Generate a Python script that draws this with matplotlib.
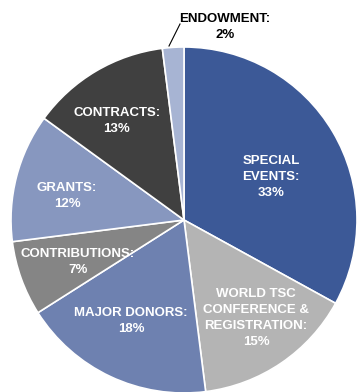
import matplotlib.pyplot as plt

labels = ["SPECIAL\nEVENTS:", "WORLD TSC\nCONFERENCE &\nREGISTRATION:", "MAJOR DONORS:",
          "CONTRIBUTIONS:", "GRANTS:", "CONTRACTS:", "ENDOWMENT:"]
shares = [33, 15, 18, 7, 12, 13, 2]
colors = ["#3c5997", "#b4b4b4", "#6e81b0", "#858585", "#8797bf", "#404040", "#a7b4d3"]

plt.rcParams['font.family'] = ['Liberation Sans Narrow', 'Liberation Sans', 'DejaVu Sans']

fig = plt.figure(figsize=(3.57, 3.92), dpi=100)
ax = fig.add_axes([0, 0, 1, 1])
ax.set_xlim(0, 357)
ax.set_ylim(392, 0)
ax.axis('off')

# pie drawn in pixel-like coordinates (y inverted), so go counterclock in data = clockwise on screen
wedges, _ = ax.pie(shares, colors=colors, startangle=-90, counterclock=True,
                   center=(184, 220), radius=173, frame=True,
                   wedgeprops=dict(edgecolor="white", linewidth=1.2))
ax.set_xlim(0, 357)
ax.set_ylim(392, 0)
ax.axis('off')

# label positions (pixels)
pos = [(271, 177), (256, 318), (131, 321), (78, 262), (67, 196), (117, 121), (225, 27)]
for lab, s, (x, y), i in zip(labels, shares, pos, range(len(shares))):
    c = "black" if i == 6 else "white"
    ax.text(x, y, f"{lab}\n{s}%", ha="center", va="center", color=c,
            fontsize=9.5, fontweight="bold", linespacing=1.45)

ax.plot([169, 180], [46, 24], color="black", lw=0.8)

fig.savefig("out.png", dpi=100)
